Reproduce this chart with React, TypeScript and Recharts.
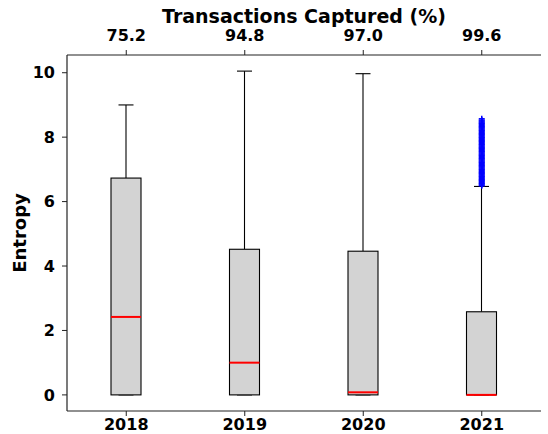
import React from 'react';
import { ComposedChart, Bar, Scatter, XAxis, YAxis, Label } from 'recharts';

const years = ['2018', '2019', '2020', '2021'];
const captured = ['75.2', '94.8', '97.0', '99.6'];
const whiskerLow = [0, 0, 0, 0];
const q1 = [0, 0, 0, 0];
const median = [2.42, 1.0, 0.08, 0.0];
const q3 = [6.73, 4.52, 4.46, 2.58];
const whiskerHigh = [9.0, 10.05, 9.97, 6.47];
const outliers2021 = [
  6.49, 6.52, 6.55, 6.57, 6.6, 6.63, 6.66, 6.68, 6.71, 6.74, 6.77, 6.79, 6.82, 6.85,
  6.88, 6.9, 6.93, 6.96, 6.99, 7.01, 7.04, 7.07, 7.1, 7.12, 7.15, 7.18, 7.21, 7.23,
  7.26, 7.29, 7.32, 7.34, 7.37, 7.4, 7.43, 7.45, 7.48, 7.51, 7.54, 7.56, 7.59, 7.62,
  7.65, 7.67, 7.7, 7.73, 7.76, 7.78, 7.81, 7.84, 7.87, 7.89, 7.92, 7.95, 7.98, 8.0,
  8.03, 8.06, 8.09, 8.11, 8.14, 8.17, 8.2, 8.22, 8.25, 8.28, 8.31, 8.33, 8.36, 8.39,
  8.42, 8.44, 8.47, 8.5, 8.53, 8.57,
];
const yTicks = [0, 2, 4, 6, 8, 10];

const data = years.map((y, i) => ({
  year: y,
  pct: captured[i],
  range: [whiskerLow[i], whiskerHigh[i]],
  lo: whiskerLow[i],
  hi: whiskerHigh[i],
  q1: q1[i],
  med: median[i],
  q3: q3[i],
}));

const outlierData = outliers2021.map((v) => ({ year: '2021', v }));

const FONT = 'DejaVu Sans';
const tickStyle = { fontFamily: FONT, fontWeight: 'bold', fontSize: 16, fill: '#000' };

const BoxShape = (props: any) => {
  const { x, y, width, height, payload } = props;
  const span = payload.hi - payload.lo;
  if (!span) return null;
  const unit = height / span;
  const base = y + height;
  const py = (v: number) => base - (v - payload.lo) * unit;
  const cx = x + width / 2;
  const bw = 30;
  const cap = bw / 4;
  return (
    <g>
      <line x1={cx} x2={cx} y1={py(payload.q3)} y2={py(payload.hi)} stroke="#000" strokeWidth={1.1} />
      <line x1={cx} x2={cx} y1={py(payload.q1)} y2={py(payload.lo)} stroke="#000" strokeWidth={1.1} />
      <line x1={cx - cap} x2={cx + cap} y1={py(payload.hi)} y2={py(payload.hi)} stroke="#000" strokeWidth={1.1} />
      <line x1={cx - cap} x2={cx + cap} y1={py(payload.lo)} y2={py(payload.lo)} stroke="#000" strokeWidth={1.1} />
      <rect
        x={cx - bw / 2}
        y={py(payload.q3)}
        width={bw}
        height={py(payload.q1) - py(payload.q3)}
        fill="#d3d3d3"
        stroke="#000"
        strokeWidth={1.1}
      />
      <line x1={cx - bw / 2} x2={cx + bw / 2} y1={py(payload.med)} y2={py(payload.med)} stroke="#ff0000" strokeWidth={2} />
    </g>
  );
};

const Plus = (props: any) => {
  const { cx, cy } = props;
  if (cx == null || cy == null) return null;
  return (
    <g>
      <line x1={cx - 3} x2={cx + 3} y1={cy} y2={cy} stroke="#0000ff" strokeWidth={1.5} />
      <line x1={cx} x2={cx} y1={cy - 3} y2={cy + 3} stroke="#0000ff" strokeWidth={1.5} />
    </g>
  );
};

export default function App() {
  return (
    <div style={{ position: 'absolute', left: 0, top: 0, width: 548, height: 434, background: '#fff' }}>
      <ComposedChart
        width={548}
        height={434}
        data={data}
        margin={{ top: 0, right: 7, bottom: 0, left: 0 }}
      >
        <XAxis
          dataKey="year"
          allowDuplicatedCategory={false}
          tick={tickStyle}
          tickSize={5}
          tickMargin={3}
          height={23}
          axisLine={{ stroke: '#222', strokeWidth: 1.2 }}
          tickLine={{ stroke: '#222' }}
        />
        <XAxis
          xAxisId="top"
          dataKey="pct"
          orientation="top"
          tick={tickStyle}
          tickSize={5}
          tickMargin={9}
          height={55}
          axisLine={{ stroke: '#222', strokeWidth: 1.2 }}
          tickLine={{ stroke: '#222' }}
        >
          <Label
            value="Transactions Captured (%)"
            position="insideTop"
            offset={10}
            style={{ fontFamily: FONT, fontWeight: 'bold', fontSize: 19, fill: '#000' }}
          />
        </XAxis>
        <YAxis
          type="number"
          domain={[-0.5, 10.55]}
          ticks={yTicks}
          allowDataOverflow
          tick={tickStyle}
          tickSize={5}
          tickMargin={7}
          width={67}
          axisLine={{ stroke: '#222', strokeWidth: 1.2 }}
          tickLine={{ stroke: '#222' }}
        >
          <Label
            value="Entropy"
            angle={-90}
            position="insideLeft"
            offset={20}
            style={{ fontFamily: FONT, fontWeight: 'bold', fontSize: 18, fill: '#000', textAnchor: 'middle' }}
          />
        </YAxis>
        <YAxis
          yAxisId="right"
          orientation="right"
          type="number"
          domain={[-0.5, 10.55]}
          tick={false}
          tickLine={false}
          width={0}
          axisLine={{ stroke: '#222', strokeWidth: 1.2 }}
        />
        <Bar dataKey="range" barSize={30} shape={<BoxShape />} isAnimationActive={false} />
        <Scatter data={outlierData} dataKey="v" shape={<Plus />} isAnimationActive={false} />
      </ComposedChart>
    </div>
  );
}
